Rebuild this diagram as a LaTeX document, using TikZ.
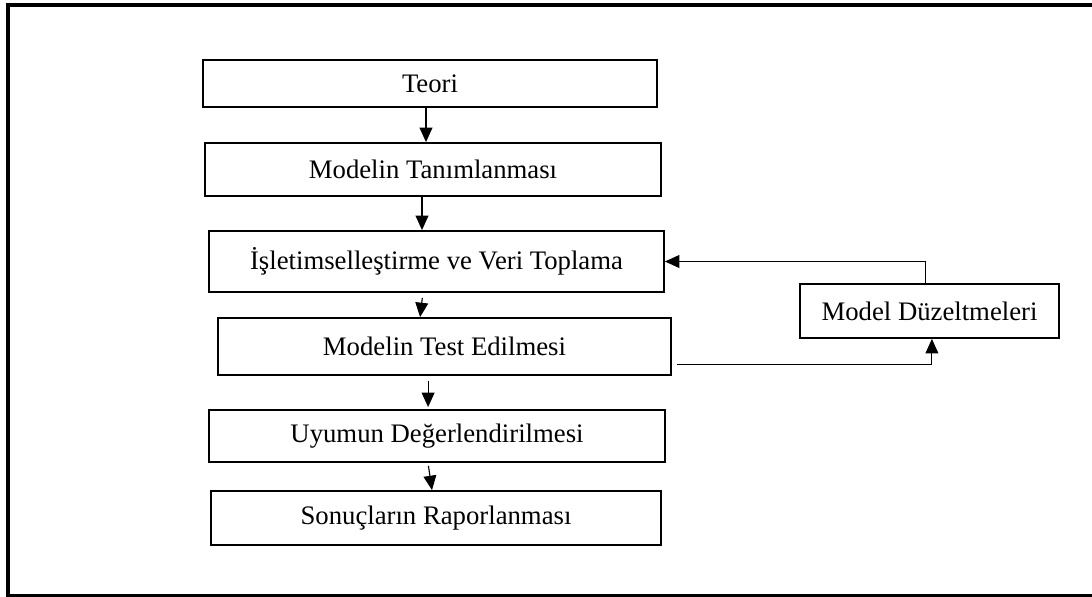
\documentclass[tikz,border=0pt]{standalone}
\usepackage{fontspec}
\setmainfont{Liberation Serif}
\usetikzlibrary{arrows.meta}

\begin{document}
\begin{tikzpicture}[
      >={Triangle[length=0.36cm, width=0.32cm]},
      box/.style={draw, line width=1.3pt, align=center, inner sep=2pt,
                  font=\fontsize{19}{23}\selectfont},
      flow/.style={->, line width=0.8pt},
      x=0.025cm, y=-0.025cm]
    \useasboundingbox (0,0) rectangle (1092,597);
    % outer frame (open on the right)
    \draw[line width=2.2pt] (1092,5) -- (8,5) -- (8,596) -- (1092,596);
    % main column
    \node[box, minimum width=454*0.025cm, minimum height=47*0.025cm] (teori) at (430,83.5) {Teori};
    \node[box, minimum width=456*0.025cm, minimum height=53*0.025cm] (tanim) at (433,169.5) {Modelin Tanımlanması};
    \node[box, minimum width=455*0.025cm, minimum height=61*0.025cm] (islet) at (436.5,261.5) {İşletimselleştirme ve Veri Toplama};
    \node[box, minimum width=453*0.025cm, minimum height=57*0.025cm] (test) at (444.5,346.5) {Modelin Test Edilmesi};
    \node[box, minimum width=456*0.025cm, minimum height=52*0.025cm] (uyum) at (437,436) {Uyumun Değerlendirilmesi};
    \node[box, minimum width=450*0.025cm, minimum height=54*0.025cm] (sonuc) at (436,518) {Sonuçların Raporlanması};
    % side box
    \node[box, minimum width=259*0.025cm, minimum height=54*0.025cm] (duzelt) at (929.5,311) {Model Düzeltmeleri};
    % downward arrows
    \draw[flow] ([xshift=-0.1cm]teori.south) -- ([xshift=-0.1cm]teori.south |- tanim.north);
    \draw[flow] ([xshift=-0.275cm]tanim.south) -- ([xshift=-0.275cm]tanim.south |- islet.north);
    \draw[flow, shorten <=0.125cm] ([xshift=-0.34cm]islet.south) -- ([xshift=-0.61cm]test.north);
    \draw[flow, shorten <=0.125cm, shorten >=0.05cm] ([xshift=-0.41cm]test.south) -- ([xshift=-0.41cm]test.south |- uyum.north);
    \draw[flow, shorten <=0.075cm] ([xshift=-0.225cm]uyum.south) -- ([xshift=-0.1cm]sonuc.north);
    % feedback loop
    \draw[flow] ([xshift=0.125cm, yshift=0.275cm]test.south east) -| ([xshift=0.06cm]duzelt.south);
    \draw[flow] ([xshift=-0.11cm]duzelt.north) |- (islet.east);
  \end{tikzpicture}
\end{document}
